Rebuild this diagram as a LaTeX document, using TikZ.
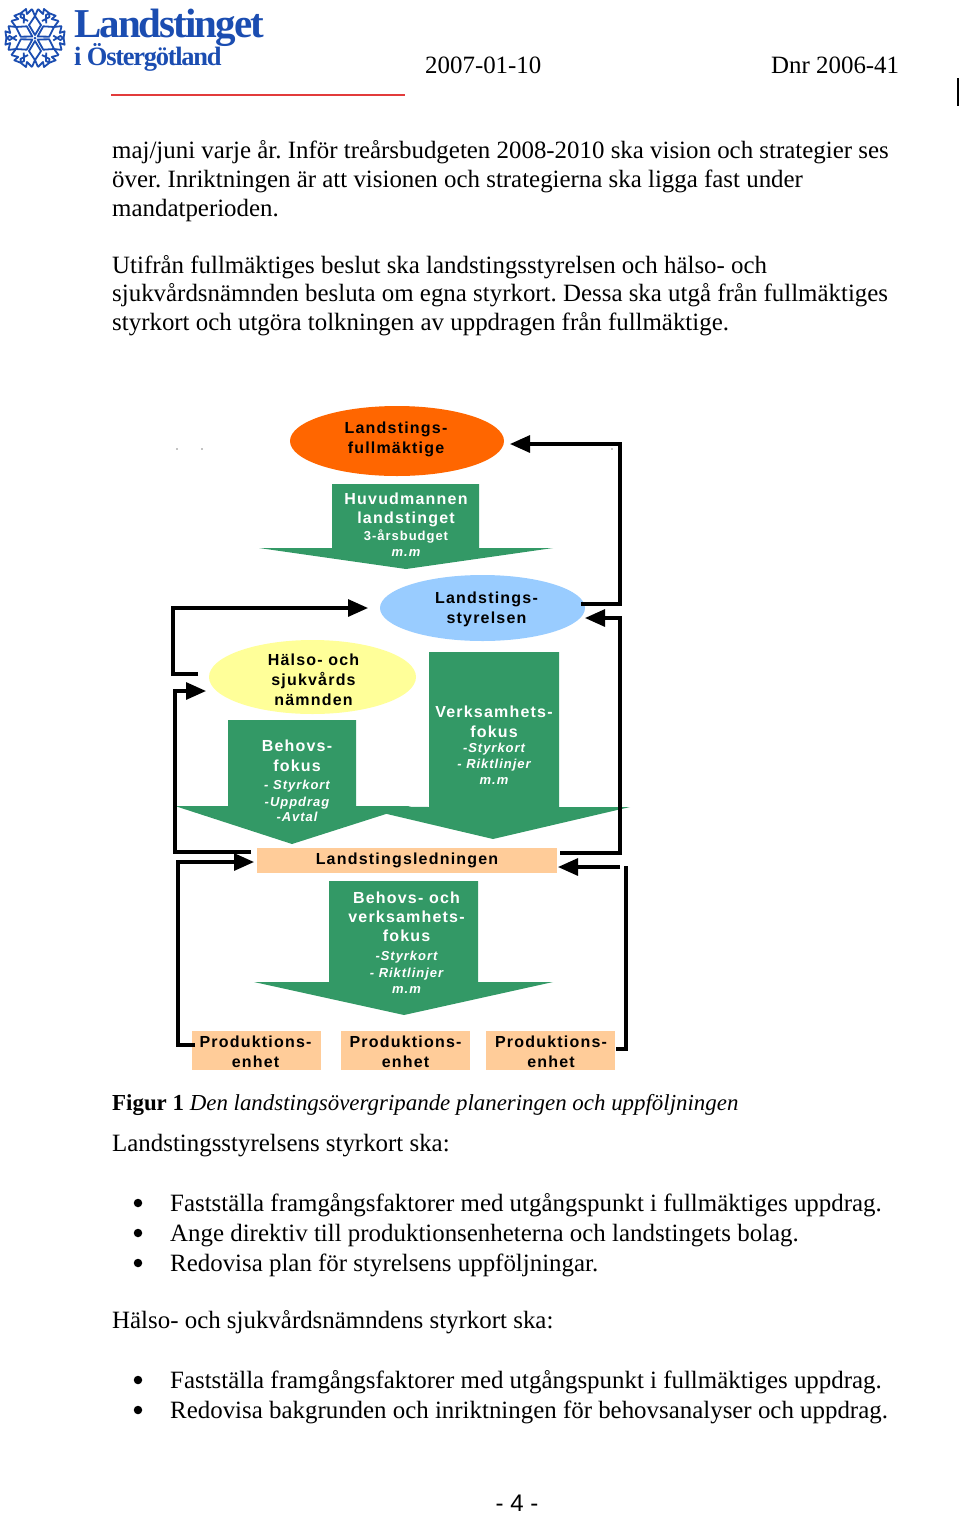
\documentclass[tikz,border=0pt]{standalone}
\usepackage{fontspec}
\setmainfont{Liberation Serif}
\newfontfamily\dg[LetterSpace=7.5]{Liberation Sans}
\newfontfamily\pgf{Liberation Sans}
\newfontfamily\lgf[LetterSpace=-4.8]{Liberation Serif}
\usetikzlibrary{arrows.meta,calc,shapes.geometric}
\definecolor{grn}{HTML}{339966}
\definecolor{org}{HTML}{FF6600}
\definecolor{blu}{HTML}{99CCFF}
\definecolor{yel}{HTML}{FFFF99}
\definecolor{pch}{HTML}{FFCC99}
\definecolor{logob}{HTML}{1B4DB1}
\definecolor{redl}{HTML}{E23B3B}
\frenchspacing
\tikzset{
 x=1pt,y=-1pt,
 body/.style={anchor=base west,inner sep=0,font=\fontsize{24.9}{28}\selectfont,text=black},
 dgm/.style={align=center,inner sep=0,font=\dg\bfseries\fontsize{16}{20}\selectfont},
 wtx/.style={dgm,text=white},
 bulletdot/.style={circle,fill=black,inner sep=0,minimum size=8.5pt},
 ell/.style={ellipse,inner sep=0},
 conn/.style={line width=3.1pt},
 arr/.style={line width=3.1pt,-{Triangle[length=20pt,width=17pt]}},
 pbox/.style={fill=pch,draw=none,inner sep=0},
}
\newcommand{\smi}{\itshape\fontsize{13}{15}\selectfont}
\newcommand{\smb}{\fontsize{13}{15}\selectfont}
\begin{document}
\begin{tikzpicture}
\useasboundingbox (0,0) rectangle (960,1513);
% logo
\begin{scope}[shift={(35,38)},logob,line width=1.8pt,line join=round]
 \foreach \a in {0,60,...,300}{
  \begin{scope}[rotate=\a]
   \draw (0,-3) -- (-6,-13) -- (0,-22) -- (6,-13) -- cycle;
   \draw (-3,-29) -- (0,-22) -- (3,-29);
   \draw (-3,-29) -- (-8,-24) -- (-9,-29) -- (-14,-25) -- (-14.5,-21) -- (-7,-17);
   \draw (3,-29) -- (8,-24) -- (9,-29) -- (14,-25) -- (14.5,-21) -- (7,-17);
  \end{scope}}
 \fill (0,0) circle (1.5);
\end{scope}
\node[anchor=base west,inner sep=0,text=logob,font=\lgf\bfseries\fontsize{41}{43}\selectfont] (logoa) at (74,37) {Landstinget};
\node[anchor=base west,inner sep=0,text=logob,font=\lgf\bfseries\fontsize{26.5}{28}\selectfont] (logob) at (74,65) {i Östergötland};
\fill[redl] (111,94) rectangle (405,96);
\node[body] (hd) at (425,73) {2007-01-10};
\node[body] (hn) at (771,73) {Dnr 2006-41};
\fill[black] (957,78) rectangle (959,106);
% text
\node[body] (t1) at (112,158) {maj/juni varje år. Inför treårsbudgeten 2008-2010 ska vision och strategier ses};
\node[body] (t2) at (112,187) {över. Inriktningen är att visionen och strategierna ska ligga fast under};
\node[body] (t3) at (112,216) {mandatperioden.};
\node[body] (t4) at (112,273) {Utifrån fullmäktiges beslut ska landstingsstyrelsen och hälso- och};
\node[body] (t5) at (112,301) {sjukvårdsnämnden besluta om egna styrkort. Dessa ska utgå från fullmäktiges};
\node[body] (t6) at (112,330) {styrkort och utgöra tolkningen av uppdragen från fullmäktige.};
% dots
\fill (177,449) circle (.6) (202,449) circle (.6) (612,449) circle (.6);
% ellipses
\node[ell,fill=org,minimum width=214pt,minimum height=70pt] (lf) at (397,441) {};
\node[dgm,yshift=2pt,xshift=-1pt] at (lf.center) (lft) {Landstings-\\fullmäktige};
\node[ell,fill=blu,minimum width=205pt,minimum height=66pt] (ls) at (482.5,608) {};
\node[dgm,xshift=4pt,yshift=-1pt] at (ls.center) (lst) {Landstings-\\styrelsen};
\node[ell,fill=yel,minimum width=207pt,minimum height=74pt] (hs) at (312.5,677) {};
\node[dgm,xshift=1pt,yshift=-3pt] at (hs.center) (hst) {Hälso- och\\sjukvårds\\nämnden};
% big arrows
\fill[grn] (332,484) -- (479,484) -- (479,548) -- (553,548) -- (406,569) -- (259,548) -- (332,548) -- cycle;
\fill[grn] (429,652) -- (559,652) -- (559,807) -- (630,807) -- (493,839) -- (387,814) -- (350,806) -- (429,807) -- cycle;
\fill[grn] (228,720) -- (356,720) -- (356,806) -- (411,806) -- (292,844) -- (175,806) -- (228,806) -- cycle;
\fill[grn] (329,881) -- (478,881) -- (478,982) -- (553,982) -- (404,1015) -- (254,982) -- (329,982) -- cycle;
% arrow labels
\node[wtx] (a1) at (406,525) {Huvudmannen\\[-1pt]landstinget\\[-3pt]{\smb 3-årsbudget}\\[-4pt]{\smi m.m}};
\node[wtx] (a2) at (494,745.5) {Verksamhets-\\fokus\\[-5pt]{\smi -Styrkort}\\[-4pt]{\smi - Riktlinjer}\\[-4pt]{\smi m.m}};
\node[wtx] (a3) at (297,781) {Behovs-\\fokus\\[-2pt]{\smi - Styrkort}\\[-3pt]{\smi -Uppdrag}\\[-5pt]{\smi -Avtal}};
\node[wtx] (a4) at (406.5,942.5) {Behovs- och\\[-1pt]verksamhets-\\[-1pt]fokus\\[-1pt]{\smi -Styrkort}\\[-3pt]{\smi - Riktlinjer}\\[-4pt]{\smi m.m}};
% boxes
\node[pbox,minimum width=300pt,minimum height=25pt,dgm] (led) at (407,860.5) {Landstingsledningen};
\node[pbox,minimum width=129pt,minimum height=39pt] (p1) at (256.5,1050) {};
\node[pbox,minimum width=129pt,minimum height=39pt] (p2) at (405.5,1050) {};
\node[pbox,minimum width=129pt,minimum height=39pt] (p3) at (550.5,1050) {};
\node[dgm,yshift=-1.5pt,xshift=-1pt] (p1t) at (p1.center) {Produktions-\\enhet};
\node[dgm,yshift=-1.5pt] (p2t) at (p2.center) {Produktions-\\enhet};
\node[dgm,yshift=-1.5pt,xshift=.5pt] (p3t) at (p3.center) {Produktions-\\enhet};
% connector coordinates
\coordinate (c1a) at (581,604); \coordinate (c1b) at (620,604); \coordinate (c1c) at (620,444); \coordinate (c1d) at (510,444);
\coordinate (c2a) at (560,853); \coordinate (c2b) at (620,853); \coordinate (c2c) at (620,618); \coordinate (c2d) at (585,618);
\coordinate (c3a) at (198,674); \coordinate (c3b) at (173,674); \coordinate (c3c) at (173,608); \coordinate (c3d) at (368,608);
\coordinate (c4a) at (251,852); \coordinate (c4b) at (175,852); \coordinate (c4c) at (175,691); \coordinate (c4d) at (206,691);
\coordinate (c5a) at (195,1045); \coordinate (c5b) at (178,1045); \coordinate (c5c) at (178,862); \coordinate (c5d) at (254,862);
\coordinate (c6a) at (616,1049); \coordinate (c6b) at (626,1049); \coordinate (c6c) at (626,866);
\coordinate (c7a) at (620,867); \coordinate (c7b) at (558,867);
\draw[arr] (c1a) -- (c1b) -- (c1c) -- (c1d);
\draw[arr] (c2a) -- (c2b) -- (c2c) -- (c2d);
\draw[arr] (c3a) -- (c3b) -- (c3c) -- (c3d);
\draw[arr] (c4a) -- (c4b) -- (c4c) -- (c4d);
\draw[arr] (c5a) -- (c5b) -- (c5c) -- (c5d);
\draw[conn] (c6a) -- (c6b) -- (c6c);
\draw[arr] (c7a) -- (c7b);
% lower text
\node[body,font=\fontsize{22.9}{26}\selectfont] (fig) at (112,1110) {\textbf{Figur 1} \textit{Den landstingsövergripande planeringen och uppföljningen}};
\node[body] (b0) at (112,1151) {Landstingsstyrelsens styrkort ska:};
\node[body] (b1) at (170,1211) {Fastställa framgångsfaktorer med utgångspunkt i fullmäktiges uppdrag.};
\node[body] (b2) at (170,1241) {Ange direktiv till produktionsenheterna och landstingets bolag.};
\node[body] (b3) at (170,1271) {Redovisa plan för styrelsens uppföljningar.};
\node[body] (b4) at (112,1328) {Hälso- och sjukvårdsnämndens styrkort ska:};
\node[body] (b5) at (170,1388) {Fastställa framgångsfaktorer med utgångspunkt i fullmäktiges uppdrag.};
\node[body] (b6) at (170,1418) {Redovisa bakgrunden och inriktningen för behovsanalyser och uppdrag.};
\foreach \n/\y in {d1/1203,d2/1233,d3/1263,d5/1380,d6/1410}{\node[bulletdot] (\n) at (138,\y) {};}
\node[body,anchor=base,font=\pgf\fontsize{24}{26}\selectfont] (pg) at (517,1511.5) {- 4 -};
\end{tikzpicture}
\end{document}
